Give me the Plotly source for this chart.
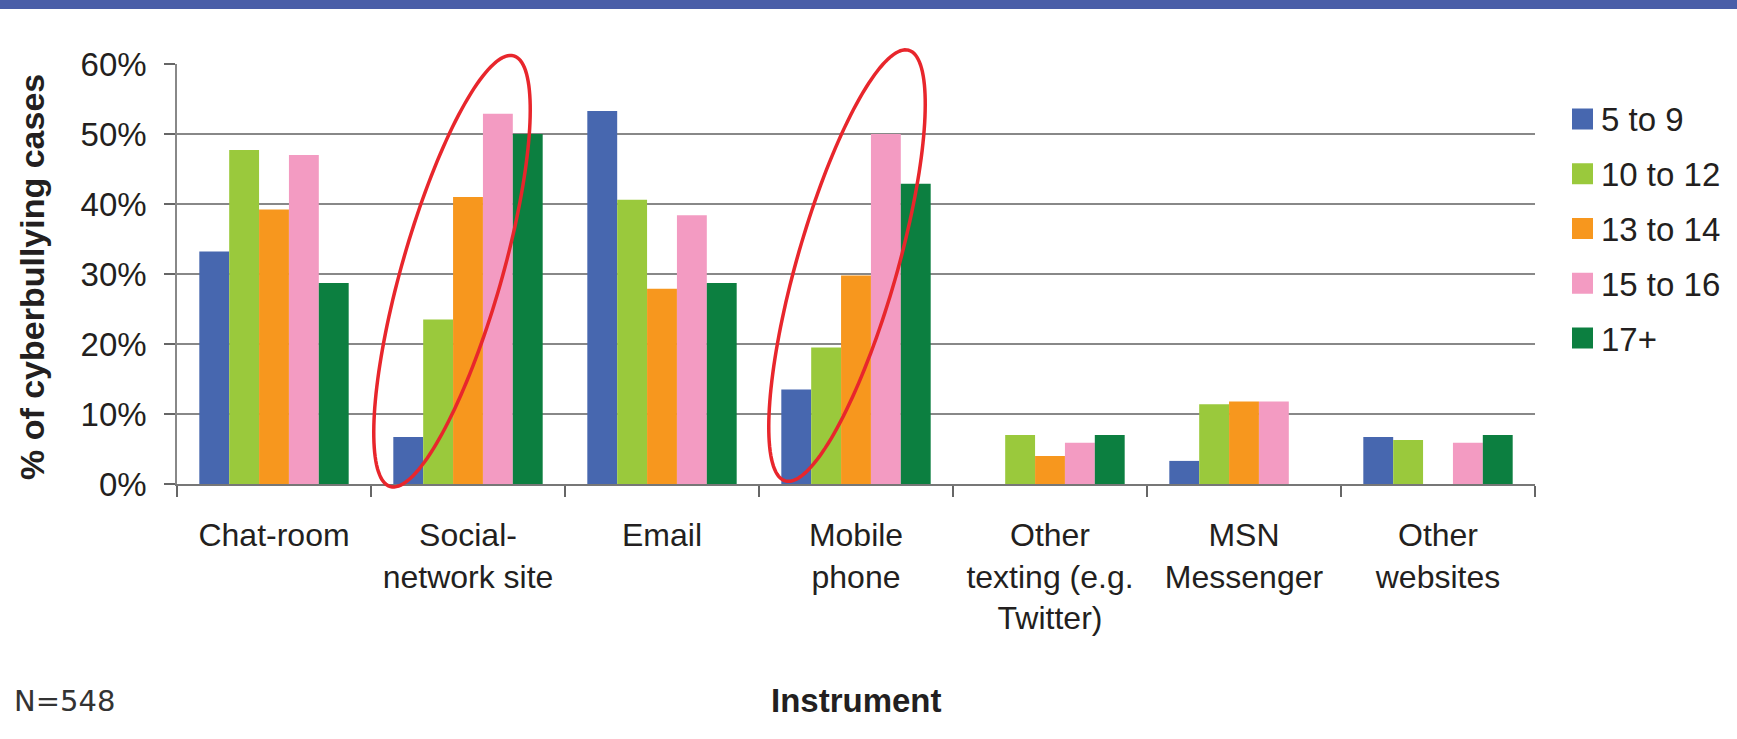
import numpy as np
import plotly.graph_objects as go

# ---- data -------------------------------------------------------------
categories = [
    "Chat-room",
    "Social-<br>network site",
    "Email",
    "Mobile<br>phone",
    "Other<br>texting (e.g.<br>Twitter)",
    "MSN<br>Messenger",
    "Other<br>websites",
]
age_groups = ["5 to 9", "10 to 12", "13 to 14", "15 to 16", "17+"]

age_5_9 = [33.2, 6.7, 53.3, 13.5, 0.0, 3.3, 6.7]
age_10_12 = [47.7, 23.5, 40.6, 19.5, 7.0, 11.4, 6.3]
age_13_14 = [39.2, 41.0, 27.9, 29.8, 4.0, 11.8, 0.0]
age_15_16 = [47.0, 52.9, 38.4, 50.0, 5.9, 11.8, 5.9]
age_17_plus = [28.7, 50.0, 28.7, 42.9, 7.0, 0.0, 7.0]

y_ticks = [0, 10, 20, 30, 40, 50, 60]
highlighted = ["Social-<br>network site", "Mobile<br>phone"]

# ---- styling ----------------------------------------------------------
series = [age_5_9, age_10_12, age_13_14, age_15_16, age_17_plus]
colors = ["#4767AF", "#9AC93C", "#F7971E", "#F39BC2", "#0C7F40"]
FONT = "Liberation Sans, Arial, sans-serif"
TEXT = "#231F20"
GRID = "#888888"

W, H = 1737, 739
M_L, M_R, M_T, M_B = 177, 202, 64, 255
PW = W - M_L - M_R
PH = H - M_T - M_B
Y_MAX = 60


def px_x(px):
    """Pixel column -> paper x."""
    return (px - M_L) / PW


def px_y(py):
    """Pixel row -> paper y."""
    return (H - M_B - py) / PH


fig = go.Figure()
for name, vals, col in zip(age_groups, series, colors):
    fig.add_trace(go.Bar(
        name=name, x=categories, y=vals,
        marker=dict(color=col, line=dict(width=0)),
        showlegend=False,
    ))


def ellipse_path(cat, dx_px, y_center, a=224, b=50, tilt_deg=16, n=160):
    """Tilted ellipse around a category's bars, in paper units so it may
    extend past the top of the plotting area (semi-axes in pixels)."""
    idx = categories.index(cat)
    t = np.linspace(0, 2 * np.pi, n, endpoint=False)
    th = np.radians(tilt_deg)
    ux, uy = np.sin(th), np.cos(th)      # major axis, leaning right
    vx, vy = np.cos(th), -np.sin(th)     # minor axis
    ex = a * np.cos(t) * ux + b * np.sin(t) * vx
    ey = a * np.cos(t) * uy + b * np.sin(t) * vy
    xc = (idx + 0.5) / len(categories) + dx_px / PW
    yc = y_center / Y_MAX
    xs = xc + ex / PW
    ys = yc + ey / PH
    pts = [f"{x:.5f},{y:.5f}" for x, y in zip(xs, ys)]
    return "M" + " L".join(pts) + " Z"


shapes = []
# banner strip across the top
shapes.append(dict(type="rect", xref="paper", yref="paper",
                   x0=px_x(-5), x1=px_x(W + 5), y0=px_y(9), y1=px_y(-5),
                   fillcolor="#4A5EA8", line=dict(width=0), layer="above"))

ellipse_geom = {highlighted[0]: (-16, 30.4), highlighted[1]: (-9, 31.2)}
for cat in highlighted:
    dx, yc = ellipse_geom[cat]
    shapes.append(dict(type="path", xref="paper", yref="paper",
                       path=ellipse_path(cat, dx, yc),
                       line=dict(color="#E8262C", width=3.5),
                       fillcolor="rgba(0,0,0,0)", layer="above"))

annotations = []
# custom legend with large colour swatches
for i, (name, col) in enumerate(zip(age_groups, colors)):
    cy = 119 + 54.75 * i
    shapes.append(dict(type="rect", xref="paper", yref="paper",
                       x0=px_x(1572), x1=px_x(1593),
                       y0=px_y(cy + 10.5), y1=px_y(cy - 10.5),
                       fillcolor=col, line=dict(width=0)))
    annotations.append(dict(xref="paper", yref="paper",
                            x=px_x(1599), y=px_y(cy + 1),
                            xanchor="left", yanchor="middle",
                            text=name, showarrow=False,
                            font=dict(family=FONT, size=33, color=TEXT)))

annotations.append(dict(xref="paper", yref="paper",
                        x=px_x(32), y=px_y(277),
                        xanchor="center", yanchor="middle", textangle=-90,
                        text="<b>% of cyberbullying cases</b>", showarrow=False,
                        font=dict(family=FONT, size=34, color=TEXT)))
annotations.append(dict(xref="paper", yref="paper",
                        x=px_x(856), y=px_y(700),
                        xanchor="center", yanchor="middle",
                        text="<b>Instrument</b>", showarrow=False,
                        font=dict(family=FONT, size=33, color=TEXT)))
annotations.append(dict(xref="paper", yref="paper",
                        x=px_x(12), y=px_y(701),
                        xanchor="left", yanchor="middle",
                        text="N=548", showarrow=False,
                        font=dict(family="DejaVu Sans, Verdana, sans-serif",
                                  size=29, color="#333333")))

fig.update_layout(
    width=W, height=H,
    margin=dict(l=M_L, r=M_R, t=M_T, b=M_B, autoexpand=False),
    paper_bgcolor="white", plot_bgcolor="white",
    barmode="group", bargap=0.23, bargroupgap=0,
    showlegend=False,
    font=dict(family=FONT, size=32, color=TEXT),
    shapes=shapes, annotations=annotations,
    xaxis=dict(
        type="category", tickson="boundaries",
        ticks="outside", ticklen=11, tickwidth=1.5, tickcolor="#666666",
        showline=True, linecolor="#777777", linewidth=1.5,
        showgrid=False, automargin=False,
        tickfont=dict(family=FONT, size=32, color=TEXT),
        ticklabelstandoff=22,
    ),
    yaxis=dict(
        range=[0, Y_MAX], tickvals=y_ticks,
        ticktext=[f"{v}%" for v in y_ticks],
        ticks="outside", ticklen=11, tickwidth=1.5, tickcolor="#666666",
        showline=True, linecolor="#888888", linewidth=1.5,
        showgrid=True, gridcolor=GRID, gridwidth=1.5,
        zeroline=False, automargin=False,
        tickfont=dict(family=FONT, size=33, color=TEXT),
        ticklabelstandoff=11,
    ),
)

fig.write_html("out.html")
